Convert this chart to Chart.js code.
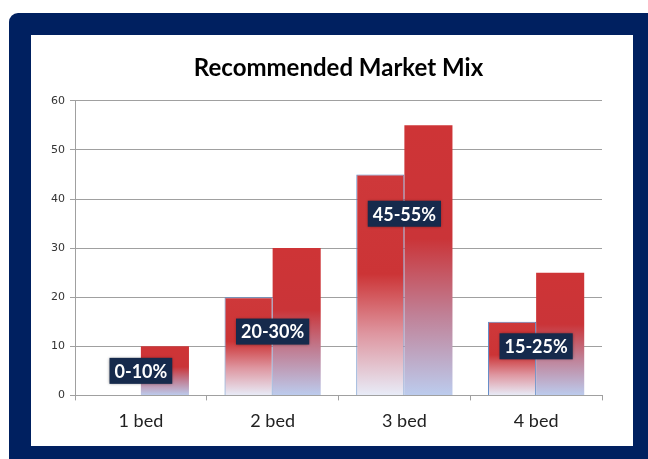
<!DOCTYPE html>
<html>
<head>
<meta charset="utf-8">
<script src="https://cdn.jsdelivr.net/npm/chart.js@4/dist/chart.umd.min.js"></script>
<style>
  html, body { margin: 0; padding: 0; background: #fff; }
  body { width: 648px; height: 459px; position: relative; overflow: hidden; }
  #frame {
    position: absolute; left: 9px; top: 13px; width: 639px; height: 446px;
    background: #002060; border-top-left-radius: 9px;
  }
  #panel {
    position: absolute; left: 31px; top: 35px; width: 602px; height: 411px;
    background: #fff;
  }
</style>
</head>
<body>
<div id="frame"></div>
<div id="panel"><canvas id="mixChart" width="602" height="411"></canvas></div>
<script>
const categories = ['1 bed', '2 bed', '3 bed', '4 bed'];
const lowShare = [0, 20, 45, 15];
const highShare = [10, 30, 55, 25];
const rangeLabels = ['0-10%', '20-30%', '45-55%', '15-25%'];
const labelAt = [5, 13, 37, 10];   // where each range tag sits, in axis units

// vertical fade per bar: red on top, washed out blue at the base
function barFill(stops) {
    return function (ctx) {
        const chart = ctx.chart;
        if (!chart.chartArea || ctx.type !== 'data') return stops[0][1];
        const y = chart.scales.y;
        const top = y.getPixelForValue(ctx.raw);
        const bottom = y.getPixelForValue(0);
        if (bottom - top < 1) return stops[0][1];
        const g = chart.ctx.createLinearGradient(0, top, 0, bottom);
        stops.forEach(function (s) { g.addColorStop(s[0], s[1]); });
        return g;
    };
}

const rangeTags = {
    id: 'rangeTags',
    afterDatasetsDraw(chart) {
        const c = chart.ctx;
        const xs = chart.scales.x, ys = chart.scales.y;
        c.save();
        c.font = 'bold 18px Lato, "Open Sans", sans-serif';
        c.textAlign = 'center';
        c.textBaseline = 'middle';
        rangeLabels.forEach(function (txt, i) {
            const x = xs.getPixelForValue(i);
            const y = ys.getPixelForValue(labelAt[i]);
            const w = c.measureText(txt).width + 10;
            const h = 26;
            c.shadowColor = 'rgba(0,0,0,0.45)';
            c.shadowBlur = 3;
            c.fillStyle = '#162a4c';
            c.fillRect(x - w / 2, y - h / 2, w, h);
            c.shadowColor = 'transparent';
            c.fillStyle = '#ffffff';
            c.fillText(txt, x, y + 1);
        });
        c.restore();
    }
};

new Chart(document.getElementById('mixChart'), {
    type: 'bar',
    data: {
        labels: categories,
        datasets: [
            {
                label: 'Low',
                data: lowShare,
                backgroundColor: barFill([
                    [0, 'rgb(206,56,58)'],
                    [0.45, 'rgb(204,52,54)'],
                    [0.72, 'rgb(222,150,160)'],
                    [1, 'rgb(232,236,248)'],
                ]),
                borderColor: '#5b86c4',
                borderWidth: function (ctx) { return ctx.raw > 0 ? 1 : 0; },
                borderSkipped: 'bottom',
            },
            {
                label: 'High',
                data: highShare,
                backgroundColor: barFill([
                    [0, 'rgb(206,52,54)'],
                    [0.42, 'rgb(202,52,56)'],
                    [0.7, 'rgb(192,128,150)'],
                    [1, 'rgb(188,204,238)'],
                ]),
                borderWidth: 0,
            },
        ],
    },
    options: {
        responsive: false,
        animation: false,
        layout: { padding: { left: 0, right: 31, top: 0, bottom: 4 } },
        datasets: { bar: { categoryPercentage: 0.73, barPercentage: 1 } },
        plugins: {
            legend: { display: false },
            tooltip: { enabled: false },
            title: {
                display: true,
                fullSize: false,
                text: 'Recommended Market Mix',
                color: '#000',
                font: { family: 'Lato, "Open Sans", sans-serif', size: 24, weight: 'bold' },
                padding: { top: 19, bottom: 18 },
            },
        },
        scales: {
            x: {
                grid: { drawOnChartArea: false, drawTicks: true, tickLength: 5, color: '#a0a0a0' },
                border: { color: '#a0a0a0' },
                ticks: { color: '#222', padding: 10, font: { family: 'Lato, "Open Sans", sans-serif', size: 18 } },
            },
            y: {
                min: 0,
                max: 60,
                ticks: { stepSize: 10, color: '#333', padding: 5, font: { family: '"DejaVu Sans", sans-serif', size: 11 } },
                grid: { color: '#a0a0a0', tickLength: 5 },
                border: { color: '#a0a0a0' },
                afterFit: function (scale) { scale.width = 44; },
            },
        },
    },
    plugins: [rangeTags],
});
</script>
</body>
</html>
